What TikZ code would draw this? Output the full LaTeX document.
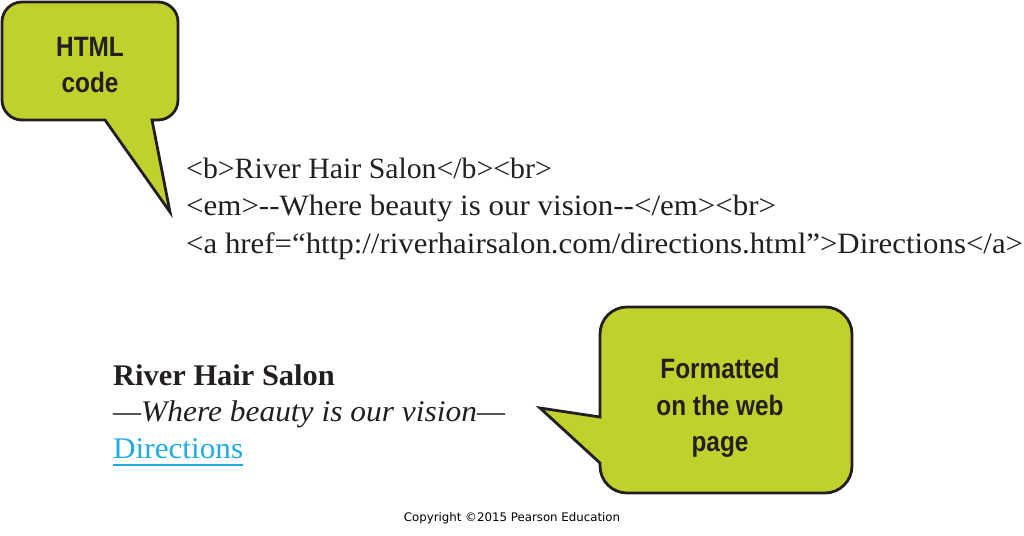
\documentclass[tikz,border=0pt]{standalone}
\usepackage{fontspec}
\usepackage{graphicx}
\setmainfont{Liberation Serif}
\newfontfamily\calloutfont[FakeStretch=0.87]{Liberation Sans}
\newfontfamily\copyfont{DejaVu Sans}
\definecolor{bubblegreen}{RGB}{192,209,46}
\definecolor{outline}{RGB}{35,31,32}
\definecolor{linkblue}{RGB}{30,172,230}
\definecolor{textdark}{RGB}{35,31,32}
\tikzset{
  bubble/.style={fill=bubblegreen, draw=outline, line width=2.8pt, line join=miter},
  callouttext/.style={font=\calloutfont\bfseries\fontsize{28}{36.5}\selectfont, text=textdark, align=center, inner sep=0pt},
  codetext/.style={font=\fontsize{29.5}{37}\selectfont, text=textdark, anchor=base west, inner sep=0pt},
  pagetext/.style={font=\fontsize{30}{37}\selectfont, text=textdark, anchor=base west, inner sep=0pt}
}
\begin{document}
\begin{tikzpicture}[x=1pt,y=1pt]
\useasboundingbox (0,0) rectangle (1024,-535);
% top callout
\draw[bubble] (22,-2) -- (158,-2) arc[start angle=90,end angle=0,radius=20]
  -- (178,-100) arc[start angle=0,end angle=-90,radius=20]
  -- (152,-120) -- (170,-212) -- (105,-120) -- (22,-120)
  arc[start angle=270,end angle=180,radius=20]
  -- (2,-22) arc[start angle=180,end angle=90,radius=20] -- cycle;
\node[callouttext] (htmlcode) at (90,-65) {HTML\\code};
% bottom callout
\draw[bubble] (627,-307) -- (825,-307) arc[start angle=90,end angle=0,radius=27]
  -- (852,-466) arc[start angle=0,end angle=-90,radius=27]
  -- (627,-493) arc[start angle=270,end angle=180,radius=27]
  -- (600,-463) -- (540,-408) -- (600,-417)
  -- (600,-334) arc[start angle=180,end angle=90,radius=27] -- cycle;
\node[callouttext] (formatted) at (720,-408) {Formatted\\on the web\\page};
% code lines
\node[codetext] (code1) at (186,-178) {\scalebox{1.01}[1]{<b>River Hair Salon</b><br>}};
\node[codetext] (code2) at (186,-215.5) {\scalebox{1.05}[1]{<em>-{}-Where beauty is our vision-{}-</em><br>}};
\node[codetext] (code3) at (186,-253) {\scalebox{1.046}[1]{<a href=“http://riverhairsalon.com/directions.html”>Directions</a>}};
% rendered page
\node[pagetext, font=\bfseries\fontsize{30}{37}\selectfont] (title) at (113,-385) {\scalebox{1.015}[1]{River Hair Salon}};
\node[pagetext, font=\itshape\fontsize{30}{37}\selectfont] (motto) at (113,-421.5) {\scalebox{1.048}[1]{—Where beauty is our vision—}};
\node[pagetext, text=linkblue] (dir) at (113,-458.5) {\scalebox{1.04}[1]{Directions}};
\draw[linkblue, line width=1.8pt] ([yshift=-6.5pt]dir.base west) -- ([yshift=-6.5pt]dir.base east);
% copyright
\node[font=\copyfont\fontsize{11.8}{14}\selectfont, text=black, inner sep=0pt, anchor=base] (copy) at (512,-521) {Copyright ©2015 Pearson Education};
\end{tikzpicture}
\end{document}
